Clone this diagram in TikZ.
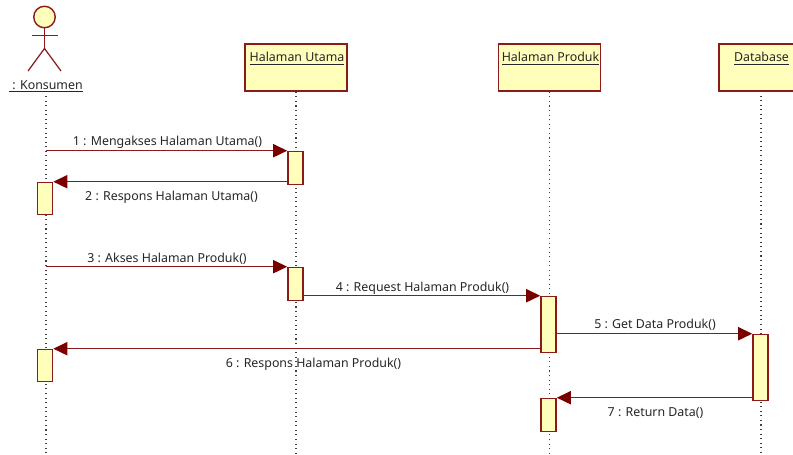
\documentclass[tikz,border=0pt]{standalone}
\usepackage{fontspec}
\setmainfont{Noto Sans}
\usetikzlibrary{arrows.meta}

\definecolor{umlline}{HTML}{8B1A1A}
\definecolor{umltip}{HTML}{7A0000}
\definecolor{umlfill}{HTML}{FFFFBB}

\tikzset{
  objbox/.style={draw=umlline, fill=umlfill, line width=0.9pt, rectangle, minimum width=2.04cm, minimum height=0.94cm, inner sep=0pt},
  actbox/.style={draw=umlline, fill=umlfill, line width=0.9pt, rectangle, minimum width=0.3cm, inner sep=0pt},
  lifeline/.style={black!75, line width=0.6pt, dotted},
  msg/.style={-{Triangle[length=8pt,width=7.5pt,color=umltip]}, umlline, line width=0.8pt},
  msgtext/.style={font=\fontsize{7.05pt}{8pt}\selectfont, text=black!85, inner sep=0pt},
  limb/.style={umlline, line width=0.7pt}
}

\begin{document}
\begin{tikzpicture}[x=0.02cm, y=-0.02cm]

\useasboundingbox (0,0) rectangle (793,454);
\clip (0,0) rectangle (793,454);

% ------------------- Actor ------------------- %
\node[draw=umlline, fill=umlfill, line width=0.8pt, circle, minimum size=0.43cm, inner sep=0pt] (head) at (44.5,17) {};
\coordinate (armL) at (32,35.5);
\coordinate (armR) at (58,35.5);
\coordinate (hip) at (44.5,48.5);
\coordinate (footL) at (28,71);
\coordinate (footR) at (61,71);
\draw[limb] (head.south) -- (hip);
\draw[limb] (armL) -- (armR);
\draw[limb] (footL) -- (hip) -- (footR);
\node[msgtext] (konsumen) at (46,86.5) {\underline{\ : Konsumen}};

% ------------------- Objects ------------------- %
\node[objbox] (utama) at (296,67.5) {};
\node[msgtext] (utamaText) at (297,58.5) {\underline{Halaman Utama}};
\node[objbox] (produk) at (549.5,67.5) {};
\node[msgtext] (produkText) at (550.5,58.5) {\underline{Halaman Produk}};
\node[objbox] (database) at (770,67.5) {};
\node[msgtext] (databaseText) at (761.5,58.5) {\underline{Database}};

% Lifelines
\coordinate (lifeK) at (46,96);
\coordinate (endK) at (46,454);
\coordinate (endU) at (296,454);
\coordinate (endP) at (549.5,454);
\coordinate (topD) at (761,91);
\coordinate (endD) at (761,454);
\draw[lifeline] (lifeK) -- (endK);
\draw[lifeline] (utama.south) -- (endU);
\draw[lifeline] (produk.south) -- (endP);
\draw[lifeline] (topD) -- (endD);

% ------------------- Activations ------------------- %
\node[actbox, minimum height=0.66cm] (actU1) at (295.5,168) {};
\node[actbox, minimum height=0.64cm] (actK1) at (45,198.5) {};
\node[actbox, minimum height=0.66cm] (actU2) at (295.5,284) {};
\node[actbox, minimum height=1.12cm] (actP1) at (548.5,324.5) {};
\node[actbox, minimum height=0.64cm] (actK2) at (45,365.5) {};
\node[actbox, minimum height=1.32cm] (actD1) at (760.5,367.5) {};
\node[actbox, minimum height=0.66cm] (actP2) at (548.5,415) {};

% ------------------- Messages ------------------- %
\draw[msg] (actU1.north west -| lifeK) -- (actU1.north west);
\draw[msg] (actK1.north east -| actU1.west) -- (actK1.north east);
\draw[msg] (actU2.north west -| lifeK) -- (actU2.north west);
\draw[msg] (actP1.north west -| actU2.east) -- (actP1.north west);
\draw[msg] (actD1.north west -| actP1.east) -- (actD1.north west);
\draw[msg] (actK2.north east -| actP1.west) -- (actK2.north east);
\draw[msg] (actP2.north east -| actD1.west) -- (actP2.north east);

\node[msgtext] (label1) at (167.5,142) {1 : Mengakses Halaman Utama()};
\node[msgtext] (label2) at (171.5,197) {2 : Respons Halaman Utama()};
\node[msgtext] (label3) at (167,259) {3 : Akses Halaman Produk()};
\node[msgtext] (label4) at (422.5,288) {4 : Request Halaman Produk()};
\node[msgtext] (label5) at (655,325) {5 : Get Data Produk()};
\node[msgtext] (label6) at (313.5,364) {6 : Respons Halaman Produk()};
\node[msgtext] (label7) at (655.5,413) {7 : Return Data()};

\end{tikzpicture}
\end{document}
